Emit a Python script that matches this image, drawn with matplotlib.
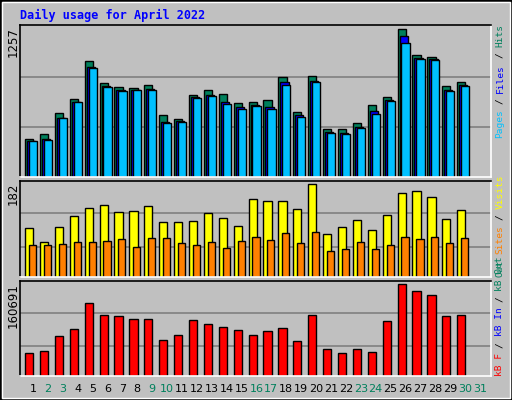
import numpy as np
import matplotlib.pyplot as plt
from matplotlib.patches import Rectangle

days = np.arange(1, 31)
hits = [314, 356, 529, 645, 959, 777, 744, 736, 761, 513, 480, 678, 719, 686, 612,
        620, 637, 827, 538, 835, 397, 397, 447, 595, 662, 1224, 1009, 992, 753, 786]
files = [298, 314, 488, 620, 910, 753, 720, 720, 728, 455, 463, 662, 678, 620, 579,
         595, 579, 786, 513, 794, 372, 364, 414, 546, 637, 1166, 984, 976, 720, 761]
pages = [295, 310, 486, 618, 900, 745, 712, 716, 722, 448, 458, 655, 670, 605, 566,
         585, 565, 760, 500, 782, 365, 357, 405, 520, 625, 1110, 976, 966, 712, 752]
visits = [93, 66, 95, 116, 131, 137, 123, 125, 135, 104, 104, 106, 121, 112, 97,
          148, 144, 144, 129, 176, 82, 95, 108, 89, 118, 159, 163, 152, 110, 127]
sites = [61, 61, 63, 66, 66, 68, 72, 57, 74, 74, 64, 61, 66, 55, 68,
         76, 70, 83, 64, 85, 49, 53, 66, 53, 61, 76, 72, 76, 64, 74]
kbytes = [38900, 42280, 67640, 79480, 123440, 103150, 101460, 96390, 96390, 60880,
          69330, 94700, 87930, 82860, 77790, 69330, 76100, 81170, 59190, 103150,
          45660, 38900, 45660, 40580, 93010, 155570, 143740, 136970, 101460, 103150]
weekend = [2, 3, 9, 10, 16, 17, 23, 24, 30, 31]
max_hits, max_visits, max_kb = 1257, 182, 160691

W, H = 512, 400
GRAY = '#C0C0C0'
GREEN = '#00805C'
mono = 'DejaVu Sans Mono'

fig = plt.figure(figsize=(W / 100, H / 100), dpi=100, facecolor=GRAY)
fig.patches.append(Rectangle((0, 0), 1, 1, transform=fig.transFigure,
                             fill=False, edgecolor='black', lw=2))
fig.patches.append(Rectangle((2 / W, 2 / H), 1 - 4 / W, 1 - 4 / H, transform=fig.transFigure,
                             fill=False, edgecolor='white', lw=1))

def panel(top, bottom, ymax, grid):
    ax = fig.add_axes([20 / W, 1 - bottom / H, 471 / W, (bottom - top) / H])
    ax.set_facecolor(GRAY)
    ax.set_xlim(0.13, 31.74)
    ax.set_ylim(0, ymax)
    ax.set_xticks([])
    ax.set_yticks(grid)
    ax.tick_params(axis='y', length=0, labelleft=False)
    ax.yaxis.grid(True, color='#808080', lw=1.2)
    ax.set_axisbelow(True)
    for s in ax.spines.values():
        s.set_color('black')
        s.set_linewidth(1.2)
    ax.spines['right'].set_color('white')
    ax.spines['bottom'].set_color('white')
    fig.text(13 / W, 1 - (top + 2) / H, str(ymax), rotation=90,
             ha='center', va='top', fontsize=8.5, family='DejaVu Sans')
    return ax

bw = 0.55
kw = dict(edgecolor='black', linewidth=1, align='edge')

ax1 = panel(25, 177, max_hits, [413, 827])
ax1.bar(days - 0.53, hits, bw, color=GREEN, **kw)
ax1.bar(days - 0.40, files, bw, color='#0000FF', **kw)
ax1.bar(days - 0.27, pages, bw, color='#00C0FF', **kw)

ax2 = panel(181, 277, max_visits, [57, 121])
ax2.bar(days - 0.53, visits, bw, color='#FFFF00', **kw)
ax2.bar(days - 0.27, sites, 0.48, color='#FF8000', **kw)

ax3 = panel(281, 376, max_kb, [50750, 106560])
ax3.bar(days - 0.53, kbytes, bw, color='#FF0000', **kw)

for d in range(1, 32):
    x = 20 + (d - 0.13) / (31.74 - 0.13) * 471
    fig.text(x / W, 1 - 389 / H, str(d), ha='center', va='center', fontsize=8,
             color=GREEN if d in weekend else 'black')

fig.text(20 / W, 1 - 15 / H, 'Daily usage for April 2022', color='#0000FF',
         family=mono, fontweight='bold', fontsize=8.5, va='center')

fs = 6.8
ch = fs / 72 * 100 * 0.602
def side_label(bottom, parts):
    off = 0
    for txt, col in parts:
        n = len(txt)
        t = txt.strip()
        lead = len(txt) - len(txt.lstrip())
        if t:
            fig.text(500 / W, 1 - (bottom - (off + lead) * ch) / H, t, color=col, family=mono,
                     fontsize=fs, rotation=90, ha='center', va='bottom')
        off += n

side_label(138, [('Pages', '#00C0FF'), (' / ', 'black'), ('Files', '#0000FF'),
                 (' / ', 'black'), ('Hits', GREEN)])
side_label(277, [('Out ', GREEN), ('Sites', '#FF8000'), (' / ', 'black'), ('Visits', '#FFFF00')])
side_label(376, [('kB F', '#FF0000'), (' / ', 'black'), ('kB In', '#0000FF'),
                 (' / ', 'black'), ('kB Out', GREEN)])

plt.savefig('out.png', dpi=100, facecolor=GRAY)
